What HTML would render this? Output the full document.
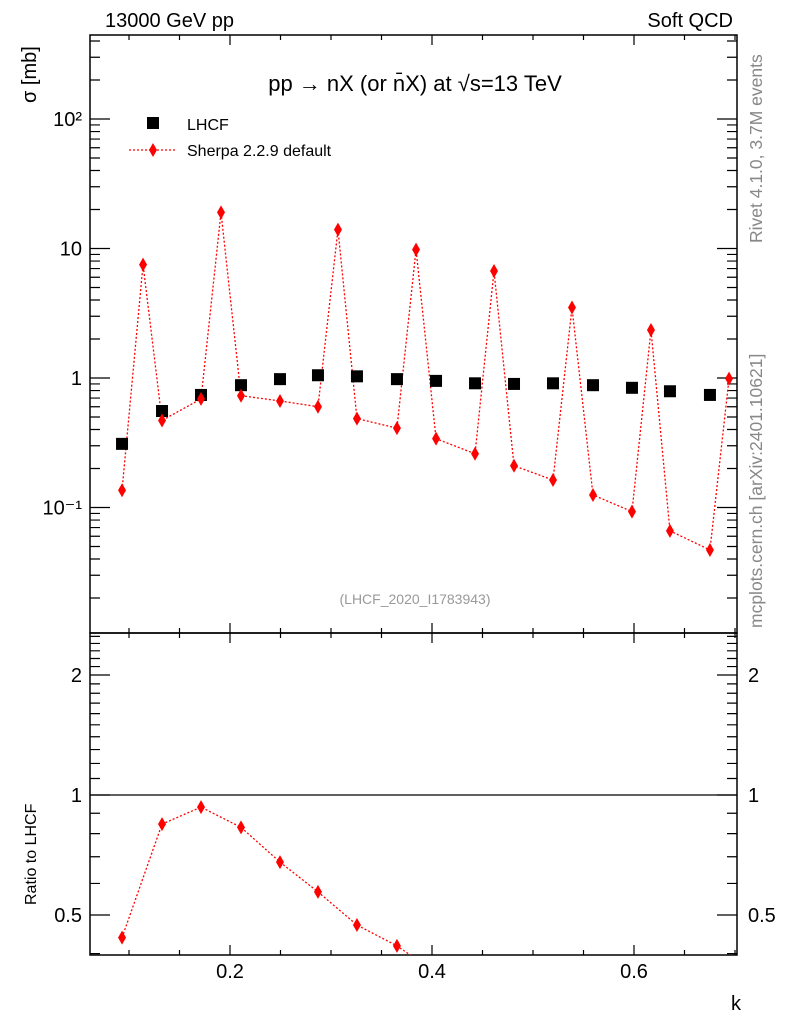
<!DOCTYPE html>
<html><head><meta charset="utf-8"><style>
html,body{margin:0;background:#fff;overflow:hidden;width:786px;height:1024px}
svg{display:block;font-family:"Liberation Sans",sans-serif}
</style></head><body>
<svg id="c" width="786" height="1024" viewBox="0 0 786 1024">
<defs>
<clipPath id="cm"><rect x="90" y="35" width="647" height="598"/></clipPath>
<clipPath id="cr"><rect x="90" y="633" width="647" height="322"/></clipPath>
</defs>
<text x="105" y="27" font-size="20">13000 GeV pp</text>
<text x="733" y="27" font-size="20" text-anchor="end">Soft QCD</text>
<text x="415" y="91" font-size="22" text-anchor="middle">pp → nX (or n̄X) at √s=13 TeV</text>
<text x="415" y="604" font-size="14" fill="#999" text-anchor="middle">(LHCF_2020_I1783943)</text>
<text transform="translate(762,243) rotate(-90)" font-size="17.5" fill="#888">Rivet 4.1.0,  3.7M events</text>
<text transform="translate(762,628) rotate(-90)" font-size="17.5" fill="#888">mcplots.cern.ch [arXiv:2401.10621]</text>
<text transform="translate(36,103) rotate(-90)" font-size="20">σ [mb]</text>
<text transform="translate(36,905) rotate(-90)" font-size="16">Ratio to LHCF</text>
<text x="741" y="1010" font-size="20" text-anchor="end">k</text>
<g id="axes"></g>
<g id="marks"></g>
<g>
<rect x="147" y="117" width="12" height="12" fill="#000"/>
<text x="187" y="130" font-size="16">LHCF</text>
<line x1="129" y1="150" x2="176" y2="150" stroke="red" stroke-width="1.3" stroke-dasharray="2,2"/>
<path d="M153,143 L157,150 L153,157 L149,150Z" fill="red"/>
<text x="187" y="156" font-size="16">Sherpa 2.2.9 default</text>
</g>
</svg>
<script>
const lhcfK=[0.0931,0.1327,0.1713,0.2109,0.2495,0.2871,0.3257,0.3653,0.404,0.4426,0.4812,0.5198,0.5594,0.598,0.6356,0.6752];
const lhcfV=[0.31,0.556,0.74,0.88,0.98,1.05,1.03,0.98,0.95,0.91,0.9,0.91,0.88,0.84,0.79,0.74];
const sherpaK=[0.0931,0.1139,0.1327,0.1713,0.1911,0.2109,0.2495,0.2871,0.3069,0.3257,0.3653,0.3842,0.404,0.4426,0.4614,0.4812,0.5198,0.5386,0.5594,0.598,0.6168,0.6356,0.6752,0.6941];
const sherpaV=[0.136,7.5,0.47,0.69,19,0.73,0.665,0.6,14,0.486,0.41,9.8,0.34,0.26,6.7,0.21,0.163,3.5,0.125,0.093,2.35,0.066,0.047,0.99];
const xTicks=[0.2,0.4,0.6];
const xTickLabels=["0.2","0.4","0.6"];
const yTicks=[0.1,1,10,100];
const yTickLabels=["10⁻¹","1","10","10²"];
const rTicks=[0.5,1,2];
const rTickLabels=["0.5","1","2"];

const NS="http://www.w3.org/2000/svg";
const L=90,R=737,T=35,B=633,RB=955;
const X=k=>230+(k-0.2)*1010;
const Y=v=>378-Math.log10(v)*129.5;
const YR=v=>795-Math.log10(v)*398.6;
function mk(tag,at,parent){const e=document.createElementNS(NS,tag);for(const a in at)e.setAttribute(a,at[a]);parent.appendChild(e);return e;}
const ax=document.getElementById('axes'),mg=document.getElementById('marks');
let f=mk('rect',{x:L,y:T,width:R-L,height:B-T,fill:'none',stroke:'#000','stroke-width':1.5},ax);


f=mk('rect',{x:L,y:B,width:R-L,height:RB-B,fill:'none',stroke:'#000','stroke-width':1.5},ax);


let p='';
for(let k=0.1;k<0.71;k+=0.05){const x=X(k);const maj=Math.abs(k/0.2-Math.round(k/0.2))<1e-6;const len=maj?10:5;
 for(const [y0,d] of [[B,-1],[T,1],[RB,-1],[B,1]]) p+=`M${x},${y0}v${d*len}`;}
for(let e=-2;e<=2;e++)for(let m=1;m<10;m++){const v=m*Math.pow(10,e);const y=Y(v);if(y<T||y>B)continue;const len=m==1?20:10;p+=`M${L},${y}h${len}M${R},${y}h${-len}`;}
for(let v=0.4;v<2.6;v+=0.1){const y=YR(v);if(y<B||y>RB)continue;const maj=[0.5,1,2].some(t=>Math.abs(t-v)<1e-6);const len=maj?20:10;p+=`M${L},${y}h${len}M${R},${y}h${-len}`;}
f=mk('path',{d:p,stroke:'#000','stroke-width':1.2,fill:'none'},ax);


xTicks.forEach((k,i)=>{const t=mk('text',{x:X(k),y:978,'font-size':20,'text-anchor':'middle'},ax);t.textContent=xTickLabels[i];

});
yTicks.forEach((v,i)=>{const t=mk('text',{x:82,y:Y(v)+7,'font-size':20,'text-anchor':'end'},ax);t.textContent=yTickLabels[i];

});
rTicks.forEach((v,i)=>{for(const [x,a] of [[82,'end'],[748,'start']]){const t=mk('text',{x:x,y:YR(v)+7,'font-size':20,'text-anchor':a},ax);t.textContent=rTickLabels[i];

}});
f=mk('line',{x1:L,x2:R,y1:YR(1),y2:YR(1),stroke:'#000','stroke-width':1.2},ax);


const gm=mk('g',{'clip-path':'url(#cm)'},mg);
f=mk('polyline',{points:sherpaK.map((k,i)=>X(k)+','+Y(sherpaV[i])).join(' '),fill:'none',stroke:'red','stroke-width':1.3,'stroke-dasharray':'2,2'},gm);


lhcfK.forEach((k,i)=>{const r=mk('rect',{x:X(k)-6,y:Y(lhcfV[i])-6,width:12,height:12,fill:'#000'},gm);

});
function dia(x,y,g){const d=mk('path',{d:`M${x},${y-7}L${x+4},${y}L${x},${y+7}L${x-4},${y}Z`,fill:'red'},g);return d;}
sherpaK.forEach((k,i)=>{const d=dia(X(k),Y(sherpaV[i]),gm);

});
const gr=mk('g',{'clip-path':'url(#cr)'},mg);
const ratio=lhcfK.map((k,i)=>{const j=sherpaK.findIndex(s=>Math.abs(s-k)<1e-4);return sherpaV[j]/lhcfV[i];});
f=mk('polyline',{points:lhcfK.map((k,i)=>X(k)+','+YR(ratio[i])).join(' '),fill:'none',stroke:'red','stroke-width':1.3,'stroke-dasharray':'2,2'},gr);


lhcfK.forEach((k,i)=>{const d=dia(X(k),YR(ratio[i]),gr);

});
</script>
</body></html>
